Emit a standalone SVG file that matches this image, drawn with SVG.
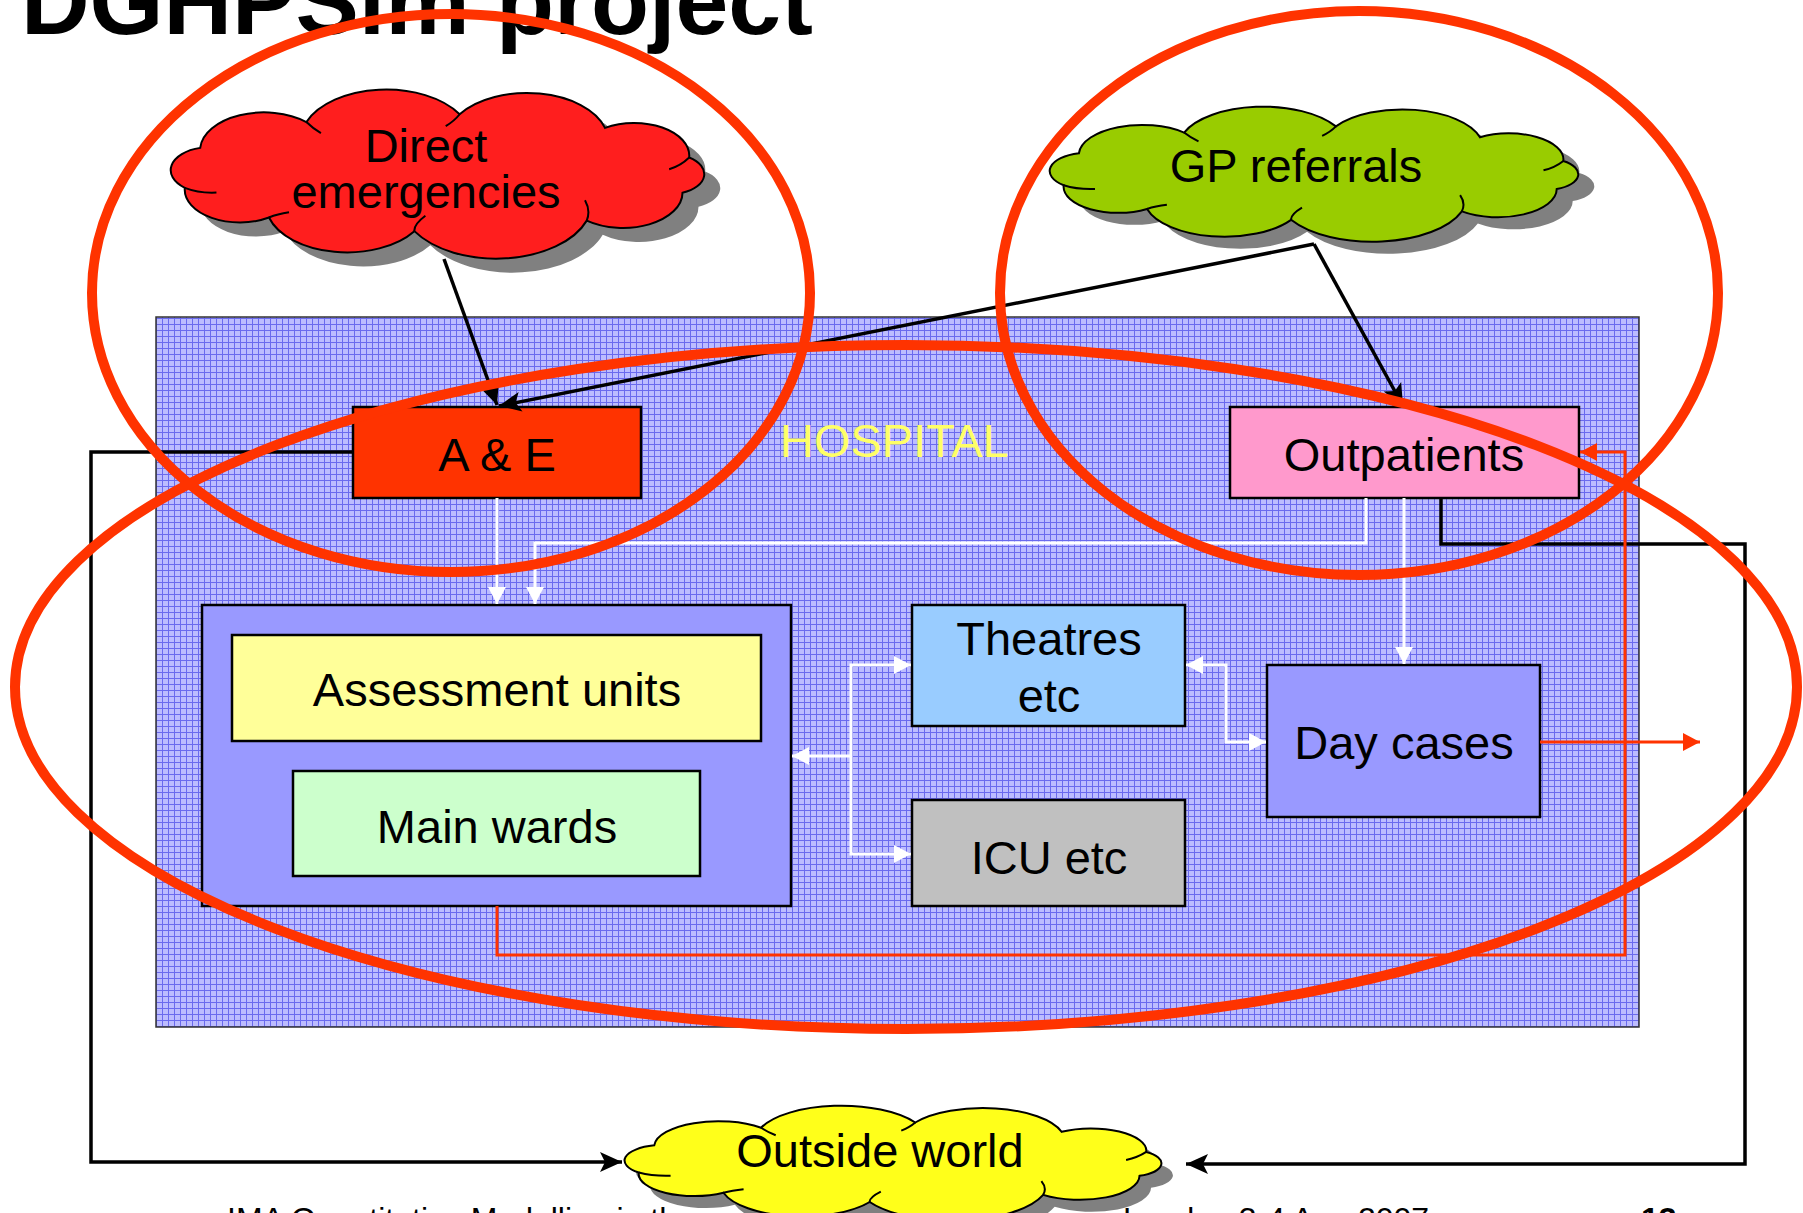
<svg xmlns="http://www.w3.org/2000/svg" width="1803" height="1213" viewBox="0 0 1803 1213">
<style>
.t{font-family:"Liberation Sans",Arial,sans-serif;font-size:47px;fill:#000;text-anchor:middle}
.box{stroke:#000;stroke-width:2.5}
.blk{fill:none;stroke:#000;stroke-width:3.5}
.wht{fill:none;stroke:#fff;stroke-width:3}
.red{fill:none;stroke:#FF3300;stroke-width:3}
.ring{fill:none;stroke:#FF3300;stroke-width:10}
.foot{font-family:"Liberation Sans",Arial,sans-serif;font-size:32px;fill:#000}
.crease{fill:none;stroke:#000;stroke-width:2}
</style>
<defs>
<pattern id="grid" width="6" height="6" patternUnits="userSpaceOnUse">
<rect width="6" height="6" fill="#BCBCFF"/>
<path d="M0 0.5H6M0.5 0V6" stroke="#6A6AEE" stroke-width="1"/>
</pattern>
<path id="cloud" vector-effect="non-scaling-stroke" d="M13.1,58.8 A13.3,13.3 0 0 1 18.4,35.6 A22,22 0 0 1 55,20.6 A29.5,29.5 0 0 1 107.8,16.1 A28,28 0 0 1 157.9,24 A19,19 0 0 1 186.9,41.2 A11.5,11.5 0 0 1 184.6,61.6 A20.5,20.5 0 0 1 151.6,77.8 A33,33 0 0 1 92.2,83.9 A28,28 0 0 1 42.1,76 A19,19 0 0 1 13.1,58.8 Z"/>
<path id="creases" vector-effect="non-scaling-stroke" d="M13.1,58.8 Q18,62 24,61.5 M55,20.6 Q57,24 60,27 M107.8,16.1 Q106,20 103,23 M186.9,41.2 Q184,46 180,48 M151.6,77.8 Q153,72 151,66 M92.2,83.9 Q92,80 96,75 M42.1,76 Q45,74 49,73"/>
<marker id="ab" markerUnits="userSpaceOnUse" markerWidth="24" markerHeight="20" refX="22" refY="10" orient="auto" overflow="visible">
<path d="M0,0 L22,10 L0,20 L5,10 z" fill="#000"/>
</marker>
<marker id="aw" markerUnits="userSpaceOnUse" markerWidth="18" markerHeight="18" refX="17" refY="9" orient="auto-start-reverse" overflow="visible">
<path d="M0,0 L17,9 L0,18 z" fill="#fff"/>
</marker>
<marker id="ar" markerUnits="userSpaceOnUse" markerWidth="18" markerHeight="18" refX="17" refY="9" orient="auto" overflow="visible">
<path d="M0,0 L17,9 L0,18 z" fill="#FF3300"/>
</marker>
</defs>
<rect width="1803" height="1213" fill="#fff"/>

<text x="21" y="34" font-family="Liberation Sans,Arial,sans-serif" font-size="95" font-weight="bold" fill="#000">DGHPSim project</text>

<g id="hospital">
<rect x="156" y="317" width="1483" height="710" fill="url(#grid)" stroke="#333" stroke-width="1.5"/>
<text x="780" y="457" font-family="Liberation Sans,Arial,sans-serif" font-size="47" fill="#FFFF66">HOSPITAL</text>
</g>

<g id="direct-emergencies">
<use href="#cloud" transform="translate(162.8,100.5) scale(2.902,1.724)" fill="#808080"/>
<use href="#cloud" transform="translate(146.8,86.5) scale(2.902,1.724)" fill="#FF1E1E" stroke="#000" stroke-width="2"/>
<use href="#creases" class="crease" transform="translate(146.8,86.5) scale(2.902,1.724)"/>
<text class="t" x="426" y="162">Direct</text>
<text class="t" x="426" y="208">emergencies</text>
</g>

<g id="gp-referrals">
<use href="#cloud" transform="translate(1042,116.2) scale(2.875,1.378)" fill="#808080"/>
<use href="#cloud" transform="translate(1026,104.2) scale(2.875,1.378)" fill="#99CC00" stroke="#000" stroke-width="2"/>
<use href="#creases" class="crease" transform="translate(1026,104.2) scale(2.875,1.378)"/>
<text class="t" x="1296" y="182">GP referrals</text>
</g>

<g id="a-and-e">
<rect class="box" x="353" y="407" width="288" height="91" fill="#FF3300"/>
<text class="t" x="497" y="471">A &amp; E</text>
</g>

<g id="outpatients">
<rect class="box" x="1230" y="407" width="349" height="91" fill="#FF99CC"/>
<text class="t" x="1404" y="471">Outpatients</text>
</g>

<g id="wards-container">
<rect class="box" x="202" y="605" width="589" height="301" fill="#9999FF"/>
</g>
<g id="assessment-units">
<rect class="box" x="232" y="635" width="529" height="106" fill="#FFFF99"/>
<text class="t" x="497" y="706">Assessment units</text>
</g>
<g id="main-wards">
<rect class="box" x="293" y="771" width="407" height="105" fill="#CCFFCC"/>
<text class="t" x="497" y="843">Main wards</text>
</g>
<g id="theatres">
<rect class="box" x="912" y="605" width="273" height="121" fill="#99CCFF"/>
<text class="t" x="1049" y="655">Theatres</text>
<text class="t" x="1049" y="712">etc</text>
</g>
<g id="icu">
<rect class="box" x="912" y="800" width="273" height="106" fill="#C0C0C0"/>
<text class="t" x="1049" y="874">ICU etc</text>
</g>
<g id="day-cases">
<rect class="box" x="1267" y="665" width="273" height="152" fill="#9999FF"/>
<text class="t" x="1404" y="759">Day cases</text>
</g>

<text class="foot" x="227" y="1230">IMA Quantitative Modelling in the</text>
<text class="foot" x="1123" y="1230">London 3-4 Aug 2007</text>
<text class="foot" x="1641" y="1230" font-weight="bold">13</text>

<g id="outside-world">
<use href="#cloud" transform="translate(612,1115.6) scale(2.92,1.173)" fill="#808080"/>
<use href="#cloud" transform="translate(600.5,1103.6) scale(2.92,1.173)" fill="#FFFF1A" stroke="#000" stroke-width="2"/>
<use href="#creases" class="crease" transform="translate(600.5,1103.6) scale(2.92,1.173)"/>
<text class="t" x="880" y="1167">Outside world</text>
</g>

<g id="connectors">
<path class="blk" d="M444,259 L497,405" stroke-width="3" marker-end="url(#ab)"/>
<path class="blk" d="M1314,244 L499,406" stroke-width="4" marker-end="url(#ab)"/>
<path class="blk" d="M1314,244 L1403,406" stroke-width="3" marker-end="url(#ab)"/>
<path class="blk" d="M353,452 H91 V1162 H622" marker-end="url(#ab)"/>
<path class="blk" d="M1441,498 V544 H1745 V1164 H1186" marker-end="url(#ab)"/>
<path class="wht" d="M497,498 V604" marker-end="url(#aw)"/>
<path class="wht" d="M1366,498 V543 H535 V604" marker-end="url(#aw)"/>
<path class="wht" d="M1404,498 V664" stroke-width="2" marker-end="url(#aw)"/>
<path class="wht" d="M851,756 H792" marker-end="url(#aw)"/>
<path class="wht" d="M911,665 H851 V854 H911" marker-start="url(#aw)" marker-end="url(#aw)"/>
<path class="wht" d="M1186,665 H1226 V742 H1266" marker-start="url(#aw)" marker-end="url(#aw)"/>
<path class="red" d="M497,906 V955 H1625 V452 H1580" marker-end="url(#ar)"/>
<path class="red" d="M1540,742 H1700" marker-end="url(#ar)"/>
</g>

<g id="highlight-rings">
<ellipse class="ring" cx="451" cy="293" rx="359" ry="279"/>
<ellipse class="ring" cx="1359" cy="293" rx="359" ry="282"/>
<ellipse class="ring" cx="906" cy="687" rx="891" ry="342"/>
</g>
</svg>
